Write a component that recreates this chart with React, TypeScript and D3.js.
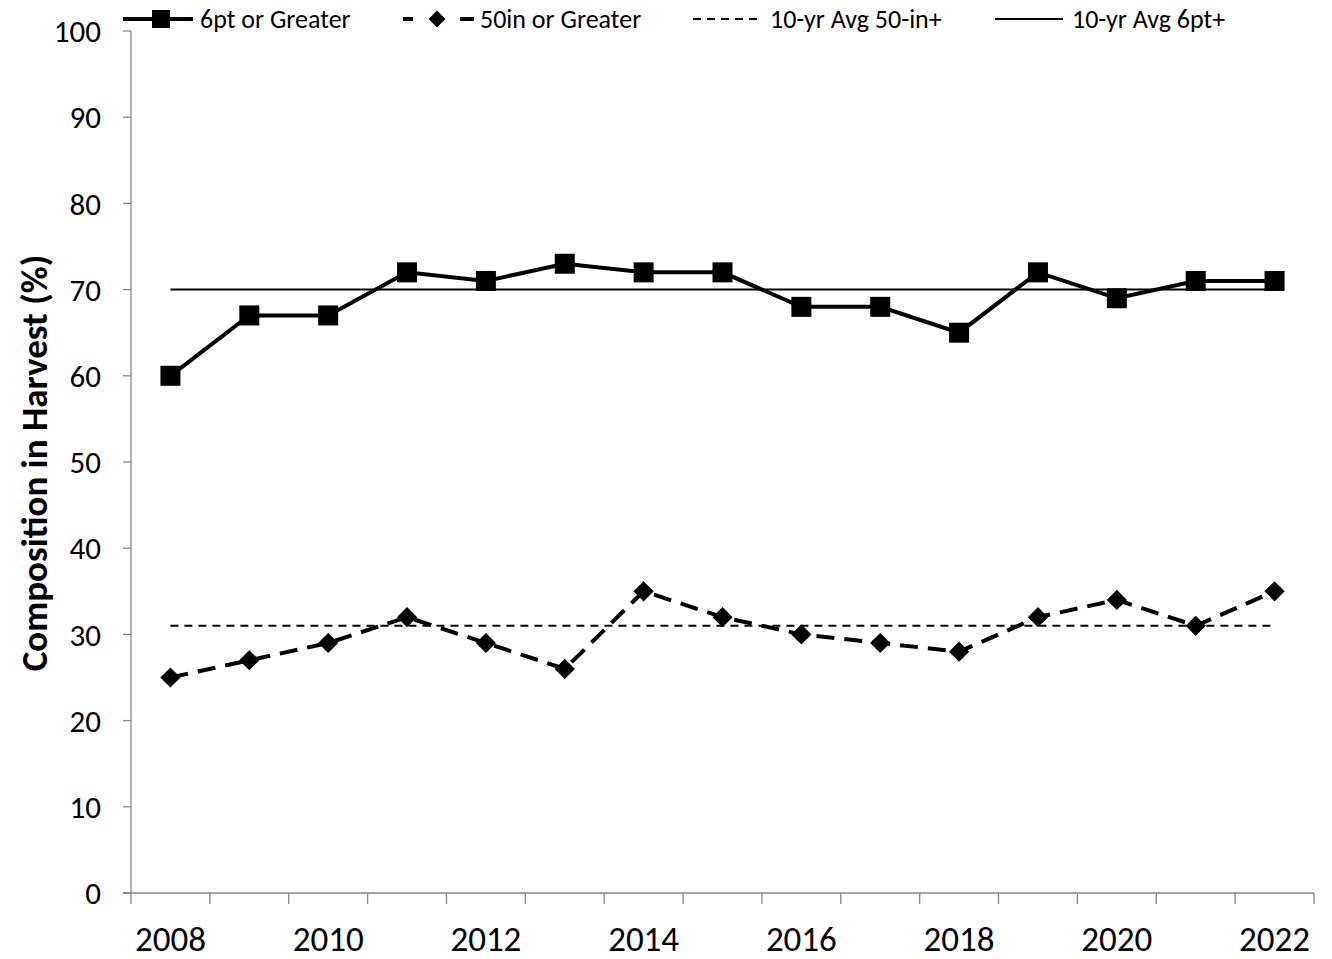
import React from "react";
import * as d3 from "d3";

const years = [2008, 2009, 2010, 2011, 2012, 2013, 2014, 2015, 2016, 2017, 2018, 2019, 2020, 2021, 2022];
const sixPoint = [60, 67, 67, 72, 71, 73, 72, 72, 68, 68, 65, 72, 69, 71, 71];
const fiftyInch = [25, 27, 29, 32, 29, 26, 35, 32, 30, 29, 28, 32, 34, 31, 35];
const avgSixPoint = 70;
const avgFiftyInch = 31;
const yTicks = [0, 10, 20, 30, 40, 50, 60, 70, 80, 90, 100];
const xLabels = [2008, 2010, 2012, 2014, 2016, 2018, 2020, 2022];

const FONT = "Carlito, Calibri, Lato, sans-serif";

const App: React.FC = () => {
  const width = 1332;
  const height = 959;
  const left = 131;
  const right = 1314;
  const top = 31;
  const bottom = 893;

  const x = d3.scaleBand<number>().domain(years).range([left, right]).padding(0);
  const cx = (yr: number) => (x(yr) as number) + x.bandwidth() / 2;
  const y = d3.scaleLinear().domain([0, 100]).range([bottom, top]);

  const line = d3.line<number>()
    .x((_, i) => cx(years[i]))
    .y((d) => y(d));

  const axisColor = "#868686";
  const first = cx(years[0]);
  const last = cx(years[years.length - 1]);

  // band edges for x ticks
  const edges = years.map((yr) => x(yr) as number).concat([right]);

  return (
    <svg width={width} height={height} style={{ display: "block", position: "absolute", left: 0, top: 0 }}>
      <rect width={width} height={height} fill="#fff" />

      {/* y axis */}
      <line x1={left} x2={left} y1={top} y2={bottom} stroke={axisColor} strokeWidth={1.3} />
      {yTicks.map((t) => (
        <g key={t}>
          <line x1={left - 8} x2={left} y1={y(t)} y2={y(t)} stroke={axisColor} strokeWidth={1.3} />
          <text x={101} y={y(t)} dy="0.36em" textAnchor="end" fontFamily={FONT} fontSize={31} fill="#000">
            {t}
          </text>
        </g>
      ))}

      {/* x axis */}
      <line x1={left - 8} x2={right} y1={bottom} y2={bottom} stroke={axisColor} strokeWidth={1.3} />
      {edges.map((e, i) => (
        <line key={i} x1={e} x2={e} y1={bottom} y2={bottom + 11} stroke={axisColor} strokeWidth={1.3} />
      ))}
      {xLabels.map((yr) => (
        <text key={yr} x={cx(yr)} y={951} textAnchor="middle" fontFamily={FONT} fontSize={35} fill="#000">
          {yr}
        </text>
      ))}

      {/* y title */}
      <text
        transform={`translate(47, ${463}) rotate(-90)`}
        textAnchor="middle"
        fontFamily={FONT}
        fontWeight="bold"
        fontSize={37}
        fill="#000"
      >
        Composition in Harvest (%)
      </text>

      {/* average lines */}
      <line x1={first} x2={last} y1={y(avgSixPoint)} y2={y(avgSixPoint)} stroke="#000" strokeWidth={2} />
      <line x1={first} x2={last} y1={y(avgFiftyInch)} y2={y(avgFiftyInch)} stroke="#000" strokeWidth={2} strokeDasharray="8,6" />

      {/* series */}
      <path d={line(sixPoint) ?? ""} fill="none" stroke="#000" strokeWidth={4} />
      {sixPoint.map((v, i) => (
        <rect key={i} x={cx(years[i]) - 10} y={y(v) - 10} width={20} height={20} fill="#000" />
      ))}
      <path d={line(fiftyInch) ?? ""} fill="none" stroke="#000" strokeWidth={4} strokeDasharray="18,10" />
      {fiftyInch.map((v, i) => (
        <path
          key={i}
          d={d3.symbol().type(d3.symbolDiamond2).size(260)() ?? ""}
          transform={`translate(${cx(years[i])},${y(v)})`}
          fill="#000"
        />
      ))}

      {/* legend */}
      <g fontFamily={FONT} fontSize={26} fill="#000">
        <line x1={123} x2={193} y1={19} y2={19} stroke="#000" strokeWidth={4} />
        <rect x={152} y={10} width={18} height={18} fill="#000" />
        <text x={200} y={19} dy="0.36em">6pt or Greater</text>

        <line x1={403} x2={413} y1={19} y2={19} stroke="#000" strokeWidth={4} />
        <path d={d3.symbol().type(d3.symbolDiamond2).size(180)() ?? ""} transform="translate(437,19)" fill="#000" />
        <line x1={460} x2={474} y1={19} y2={19} stroke="#000" strokeWidth={4} />
        <text x={480} y={19} dy="0.36em">50in or Greater</text>

        <line x1={693} x2={760} y1={19} y2={19} stroke="#000" strokeWidth={2} strokeDasharray="8,6" />
        <text x={770} y={19} dy="0.36em">10-yr Avg 50-in+</text>

        <line x1={995} x2={1063} y1={19} y2={19} stroke="#000" strokeWidth={2} />
        <text x={1072} y={19} dy="0.36em">10-yr Avg 6pt+</text>
      </g>
    </svg>
  );
};

export default App;
